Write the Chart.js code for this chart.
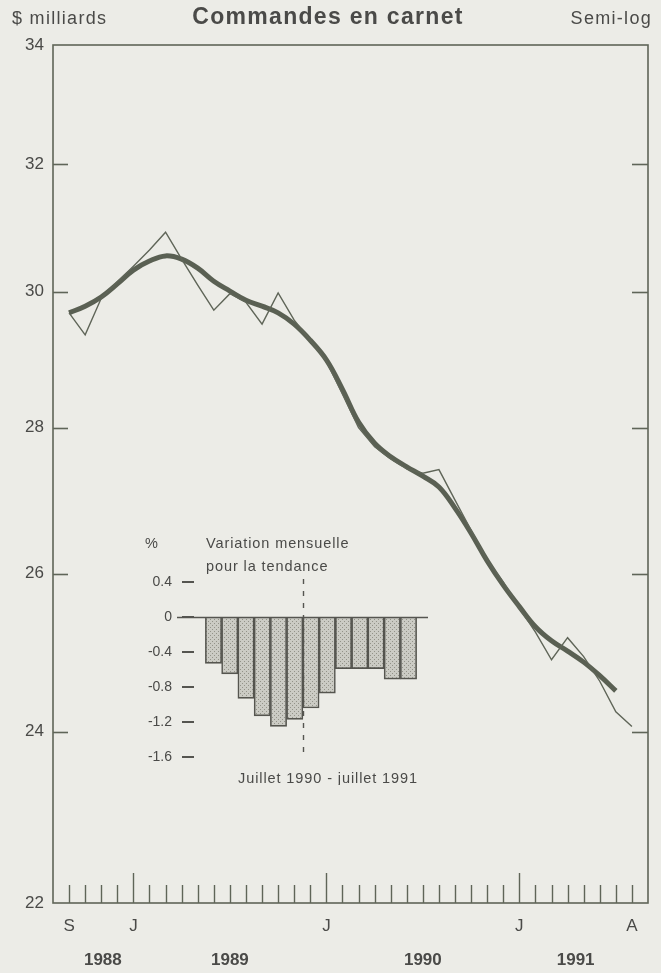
<!DOCTYPE html>
<html><head><meta charset="utf-8">
<script src="https://cdn.jsdelivr.net/npm/chart.js@4"></script>
<style>
html,body{margin:0;padding:0;background:#ecece7;}
#wrap{position:relative;width:661px;height:973px;overflow:hidden;}
canvas{position:absolute;}
</style></head><body>
<div id="wrap">
<canvas id="main" width="661" height="973" style="left:0;top:0"></canvas>
<canvas id="inset" width="300" height="260" style="left:140px;top:525px"></canvas>
</div>
<script>
// ---- data ----
const months = ['1988-09','1988-10','1988-11','1988-12',
  '1989-01','1989-02','1989-03','1989-04','1989-05','1989-06','1989-07','1989-08','1989-09','1989-10','1989-11','1989-12',
  '1990-01','1990-02','1990-03','1990-04','1990-05','1990-06','1990-07','1990-08','1990-09','1990-10','1990-11','1990-12',
  '1991-01','1991-02','1991-03','1991-04','1991-05','1991-06','1991-07','1991-08'];
// monthly unfilled orders, $ billions
const commandes = [29.68,29.35,29.90,30.15,30.39,30.64,30.92,30.50,30.10,29.72,29.97,29.84,
  29.51,29.98,29.57,29.27,28.96,28.48,28.00,27.73,27.56,27.42,27.36,27.41,
  26.99,26.58,26.18,25.89,25.55,25.24,24.89,25.17,24.93,24.62,24.24,24.06];
// trend (ends July 1991)
const tendance = [29.68,29.78,29.92,30.12,30.33,30.47,30.55,30.50,30.36,30.16,30.01,29.87,
  29.78,29.68,29.51,29.27,28.98,28.55,28.08,27.78,27.59,27.45,27.32,27.17,
  26.88,26.54,26.17,25.85,25.57,25.31,25.13,25.00,24.86,24.69,24.50];
const yTicks = [22,24,26,28,30,32,34];
const xLabelMonths = ['1988-09','1989-01','1990-01','1991-01','1991-08'];
const xLabelText = ['S','J','J','J','A'];
const years = ['1988','1989','1990','1991'];
// inset: monthly % change of trend, July 1990 - July 1991
const insetMonths = ['1990-07','1990-08','1990-09','1990-10','1990-11','1990-12',
  '1991-01','1991-02','1991-03','1991-04','1991-05','1991-06','1991-07'];
const insetValues = [-0.53,-0.65,-0.93,-1.13,-1.25,-1.17,-1.04,-0.87,-0.59,-0.59,-0.59,-0.71,-0.71];
const insetTicks = [0.4,0,-0.4,-0.8,-1.2,-1.6];

// ---- style ----
const INK = '#5f6558';
const TXT = '#4a4a48';
const FONT = "'Liberation Sans', Arial, sans-serif";
Chart.defaults.font.family = FONT;
Chart.defaults.color = TXT;

const januaryIdx = months.map((m,i)=> m.endsWith('-01') ? i : -1).filter(i=>i>=0);
const yearAt = [2.1, 10, 22, 31.5];

const mainPlugin = {
  id:'mainDecor',
  afterDraw(chart){
    const ctx = chart.ctx, a = chart.chartArea, xs = chart.scales.x, ys = chart.scales.y;
    ctx.save();
    ctx.strokeStyle = INK; ctx.lineWidth = 1.6;
    ctx.strokeRect(a.left, a.top, a.right-a.left, a.bottom-a.top);
    // month ticks (inward)
    ctx.lineWidth = 1.4;
    months.forEach((m,i)=>{
      const px = Math.round(xs.getPixelForValue(i))+0.5;
      const len = januaryIdx.includes(i) ? 30 : 18;
      ctx.beginPath(); ctx.moveTo(px, a.bottom); ctx.lineTo(px, a.bottom-len); ctx.stroke();
    });
    // y ticks both sides
    ctx.lineWidth = 1.6;
    yTicks.slice(1,-1).forEach(v=>{
      const py = Math.round(ys.getPixelForValue(v))+0.5;
      ctx.beginPath(); ctx.moveTo(a.left, py); ctx.lineTo(a.left+15, py); ctx.stroke();
      ctx.beginPath(); ctx.moveTo(a.right-16, py); ctx.lineTo(a.right, py); ctx.stroke();
    });
    // header texts
    ctx.fillStyle = TXT; ctx.textBaseline = 'middle';
    ctx.font = "18px " + FONT; ctx.letterSpacing = '1.3px';
    ctx.textAlign = 'left'; ctx.fillText('$ milliards', 12, 19);
    ctx.textAlign = 'right'; ctx.fillText('Semi-log', 652, 19);
    ctx.font = "bold 23px " + FONT; ctx.letterSpacing = '1.3px';
    ctx.textAlign = 'center'; ctx.fillText('Commandes en carnet', 328, 18);
    ctx.restore();
  }
};

new Chart(document.getElementById('main'), {
  type:'line',
  data:{datasets:[
    {label:'Commandes', data: commandes.map((v,i)=>({x:i,y:v})), borderColor:INK, borderWidth:1.4, pointRadius:0, tension:0},
    {label:'Tendance', data: tendance.map((v,i)=>({x:i,y:v})), borderColor:'#5a6053', borderWidth:5, pointRadius:0, tension:0.4, borderCapStyle:'butt'}
  ]},
  options:{
    responsive:false, animation:false, devicePixelRatio:1,
    layout:{padding:{top:45,right:13,bottom:0,left:0}},
    plugins:{legend:{display:false}, tooltip:{enabled:false}},
    scales:{
      x:{type:'linear', position:'bottom', weight:0, min:-1, max:36,
        afterBuildTicks:s=>{ s.ticks = months.map((m,i)=>({value:i})); },
        ticks:{autoSkip:false, maxRotation:0, minRotation:0, padding:13, font:{size:17}, color:TXT,
          callback:(v)=>{ const k = xLabelMonths.indexOf(months[v]); return k>=0 ? xLabelText[k] : ''; }},
        grid:{drawOnChartArea:false, drawTicks:false}, border:{display:false},
        afterFit:s=>{ s.height = 40; }},
      x2:{type:'linear', position:'bottom', weight:1, min:-1, max:36,
        afterBuildTicks:s=>{ s.ticks = yearAt.map(v=>({value:v})); },
        ticks:{autoSkip:false, maxRotation:0, minRotation:0, padding:7, font:{size:17, weight:'bold'}, color:TXT,
          callback:(v,i)=> years[i]},
        grid:{display:false, drawTicks:false}, border:{display:false},
        afterFit:s=>{ s.height = 30; }},
      y:{type:'logarithmic', position:'left', min:22, max:34,
        afterBuildTicks:s=>{ s.ticks = yTicks.map(v=>({value:v})); },
        ticks:{padding:9, font:{size:17}, color:TXT, callback:v=>String(v)},
        grid:{drawOnChartArea:false, drawTicks:false}, border:{display:false},
        afterFit:s=>{ s.width = 53; }}
    }
  },
  plugins:[mainPlugin]
});

// ---- inset ----
const ic = document.getElementById('inset');
const pc = document.createElement('canvas'); pc.width = 4; pc.height = 4;
const pg = pc.getContext('2d');
pg.fillStyle = '#cbcbc4'; pg.fillRect(0,0,4,4);
pg.fillStyle = '#939389'; pg.fillRect(0,0,1,1); pg.fillRect(2,2,1,1);
const dots = ic.getContext('2d').createPattern(pc,'repeat');

const insetPlugin = {
  id:'insetDecor',
  afterDatasetsDraw(chart){
    const ctx = chart.ctx, a = chart.chartArea, xs = chart.scales.x, ys = chart.scales.y;
    ctx.save();
    ctx.strokeStyle = '#555550'; ctx.lineWidth = 1.6;
    const y0 = Math.round(ys.getPixelForValue(0))+0.5;
    ctx.beginPath(); ctx.moveTo(a.left-17, y0); ctx.lineTo(a.right, y0); ctx.stroke();
    // dashed separator between December 1990 and January 1991
    const k = insetMonths.indexOf('1991-01');
    const xd = Math.round(xs.getPixelForValue(k-0.5))+0.5;
    ctx.setLineDash([5,7]); ctx.lineWidth = 1.4;
    ctx.beginPath(); ctx.moveTo(xd, ys.getPixelForValue(insetTicks[0])-3); ctx.lineTo(xd, ys.getPixelForValue(insetTicks[insetTicks.length-1])); ctx.stroke();
    ctx.setLineDash([]);
    ctx.fillStyle = TXT; ctx.textBaseline = 'middle';
    ctx.font = "14.5px " + FONT; ctx.letterSpacing = '0.9px';
    ctx.textAlign = 'left';
    ctx.fillText('%', 5, 19);
    ctx.fillText('Variation mensuelle', 66, 19);
    ctx.fillText('pour la tendance', 66, 42);
    ctx.textAlign = 'center';
    ctx.fillText('Juillet 1990 - juillet 1991', 188, 254);
    ctx.restore();
  }
};

new Chart(ic, {
  type:'bar',
  data:{datasets:[{data: insetValues.map((v,i)=>({x:i,y:v})), backgroundColor:dots, borderColor:'#55554f',
    borderWidth:1.6, barPercentage:1, categoryPercentage:1, borderSkipped:'start'}]},
  options:{
    responsive:false, animation:false, devicePixelRatio:1,
    layout:{padding:{top:57,right:12,bottom:28,left:0}},
    plugins:{legend:{display:false}, tooltip:{enabled:false}},
    scales:{
      x:{type:'linear', min:-1.2, max:13.2, display:false, offset:false, grid:{offset:false}},
      y:{min:-1.6, max:0.4,
        afterBuildTicks:s=>{ s.ticks = insetTicks.map(v=>({value:v})); },
        ticks:{padding:10, font:{size:14}, color:TXT, callback:v=> v===0 ? '0' : v.toFixed(1)},
        grid:{drawOnChartArea:false, drawTicks:true, tickLength:12, color:'#555550', lineWidth:2},
        border:{display:false},
        afterFit:s=>{ s.width = 54; }}
    }
  },
  plugins:[insetPlugin]
});
</script>
</body></html>
